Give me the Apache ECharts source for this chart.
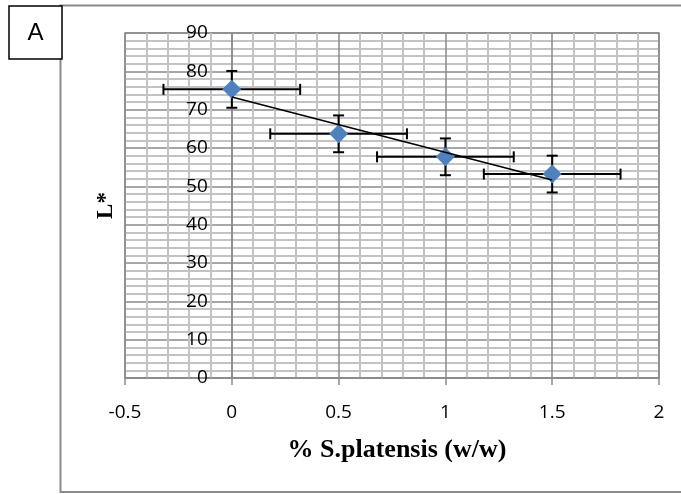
<!DOCTYPE html>
<html>
<head>
<meta charset="utf-8">
<script src="https://cdn.jsdelivr.net/npm/echarts@6/dist/echarts.min.js"></script>
<style>
  html, body { margin: 0; padding: 0; background: #fff; }
  #chart { width: 681px; height: 494px; }
</style>
</head>
<body>
<div id="chart"></div>
<script>
// % S.platensis (w/w)
const concentration = [0, 0.5, 1, 1.5];
// L* means
const lightness = [75.3, 63.7, 57.7, 53.2];
// error bars (+/-)
const lightnessErr = [4.8, 4.8, 4.8, 4.8];
const concentrationErr = [0.32, 0.32, 0.32, 0.32];

const xTicks = [-0.5, 2, 0.5];   // min, max, step
const yTicks = [0, 90, 10];

// least squares trendline, like the spreadsheet one
function trendline(xs, ys) {
  const n = xs.length;
  const mx = xs.reduce((a, b) => a + b, 0) / n;
  const my = ys.reduce((a, b) => a + b, 0) / n;
  let sxy = 0, sxx = 0;
  for (let i = 0; i < n; i++) {
    sxy += (xs[i] - mx) * (ys[i] - my);
    sxx += (xs[i] - mx) * (xs[i] - mx);
  }
  const k = sxy / sxx;
  const b = my - k * mx;
  const x0 = xs[0], x1 = xs[n - 1];
  return [[x0, k * x0 + b], [x1, k * x1 + b]];
}

const points = concentration.map((x, i) => [x, lightness[i]]);
const errData = concentration.map((x, i) => [x, lightness[i], concentrationErr[i], lightnessErr[i]]);

const gridLeft = 125, gridRight = 22;
const plotWidth = 681 - gridLeft - gridRight;
// vertical axis crosses the x axis at 0, as in the spreadsheet
const yAxisShift = plotWidth * (0 - xTicks[0]) / (xTicks[1] - xTicks[0]);

const chart = echarts.init(document.getElementById('chart'));

const option = {
  animation: false,
  grid: {
    left: gridLeft, right: gridRight, top: 33, bottom: 116,
    outerBoundsMode: 'none',
    show: true, borderColor: '#8a8a8a', borderWidth: 1.5
  },
  xAxis: {
    type: 'value',
    min: xTicks[0],
    max: xTicks[1],
    interval: xTicks[2],
    name: '% S.platensis (w/w)',
    nameLocation: 'middle',
    nameGap: 59,
    nameTextStyle: { fontFamily: 'Liberation Serif', fontWeight: 'bold', fontSize: 26, color: '#000', padding: [0, 0, 0, 10] },
    axisLine: { show: true, onZero: false, lineStyle: { color: '#8a8a8a', width: 1.5 } },
    axisTick: { show: true, length: 7, lineStyle: { color: '#8a8a8a', width: 1.5 } },
    axisLabel: { fontFamily: 'Open Sans', fontSize: 19, color: '#000', margin: 25 },
    splitLine: { show: true, lineStyle: { color: '#8a8a8a', width: 1.5 } },
    minorTick: { show: false, splitNumber: 5 },
    minorSplitLine: { show: true, lineStyle: { color: '#c3c3c3', width: 2 } }
  },
  yAxis: {
    type: 'value',
    min: yTicks[0],
    max: yTicks[1],
    interval: yTicks[2],
    offset: -yAxisShift,
    name: 'L*',
    nameLocation: 'middle',
    nameGap: 114,
    nameTextStyle: { fontFamily: 'Liberation Serif', fontWeight: 'bold', fontSize: 23, color: '#000' },
    axisLine: { show: true, onZero: false, lineStyle: { color: '#8a8a8a', width: 1.5 } },
    axisTick: { show: false },
    axisLabel: { fontFamily: 'Open Sans', fontSize: 19, color: '#000', margin: 24 },
    splitLine: { show: true, lineStyle: { color: '#8a8a8a', width: 1.5 } },
    minorTick: { show: false, splitNumber: 5 },
    minorSplitLine: { show: true, lineStyle: { color: '#c3c3c3', width: 2 } }
  },
  graphic: [
    {
      type: 'polyline',
      z: 0,
      shape: { points: [[700, 5.5], [60.5, 5.5], [60.5, 492], [700, 492]] },
      style: { stroke: '#8a8a8a', lineWidth: 2, fill: null }
    },
    {
      type: 'rect',
      z: 10,
      shape: { x: 9, y: 6, width: 53, height: 53 },
      style: { fill: '#fff', stroke: '#000', lineWidth: 1.5 }
    },
    {
      type: 'text',
      z: 11,
      x: 35.5, y: 33,
      style: { text: 'A', font: '24px "Liberation Sans"', fill: '#000', align: 'center', verticalAlign: 'middle' }
    }
  ],
  series: [
    {
      type: 'custom',
      z: 2,
      data: errData,
      renderItem: function (params, api) {
        const x = api.value(0), y = api.value(1);
        const ex = api.value(2), ey = api.value(3);
        const top = api.coord([x, y + ey]);
        const bot = api.coord([x, y - ey]);
        const left = api.coord([x - ex, y]);
        const right = api.coord([x + ex, y]);
        const cap = 5.5;
        const st = { stroke: '#000', lineWidth: 2 };
        return {
          type: 'group',
          children: [
            { type: 'line', shape: { x1: top[0], y1: top[1], x2: bot[0], y2: bot[1] }, style: st },
            { type: 'line', shape: { x1: top[0] - cap, y1: top[1], x2: top[0] + cap, y2: top[1] }, style: st },
            { type: 'line', shape: { x1: bot[0] - cap, y1: bot[1], x2: bot[0] + cap, y2: bot[1] }, style: st },
            { type: 'line', shape: { x1: left[0], y1: left[1], x2: right[0], y2: right[1] }, style: st },
            { type: 'line', shape: { x1: left[0], y1: left[1] - cap, x2: left[0], y2: left[1] + cap }, style: st },
            { type: 'line', shape: { x1: right[0], y1: right[1] - cap, x2: right[0], y2: right[1] + cap }, style: st }
          ]
        };
      }
    },
    {
      type: 'scatter',
      z: 3,
      data: points,
      symbol: 'diamond',
      symbolSize: 19,
      itemStyle: { color: '#4f81bd', opacity: 1 }
    },
    {
      type: 'line',
      z: 4,
      data: trendline(concentration, lightness),
      showSymbol: false,
      symbol: 'none',
      lineStyle: { color: '#000', width: 1.5 }
    }
  ]
};

chart.setOption(option);
</script>
</body>
</html>
